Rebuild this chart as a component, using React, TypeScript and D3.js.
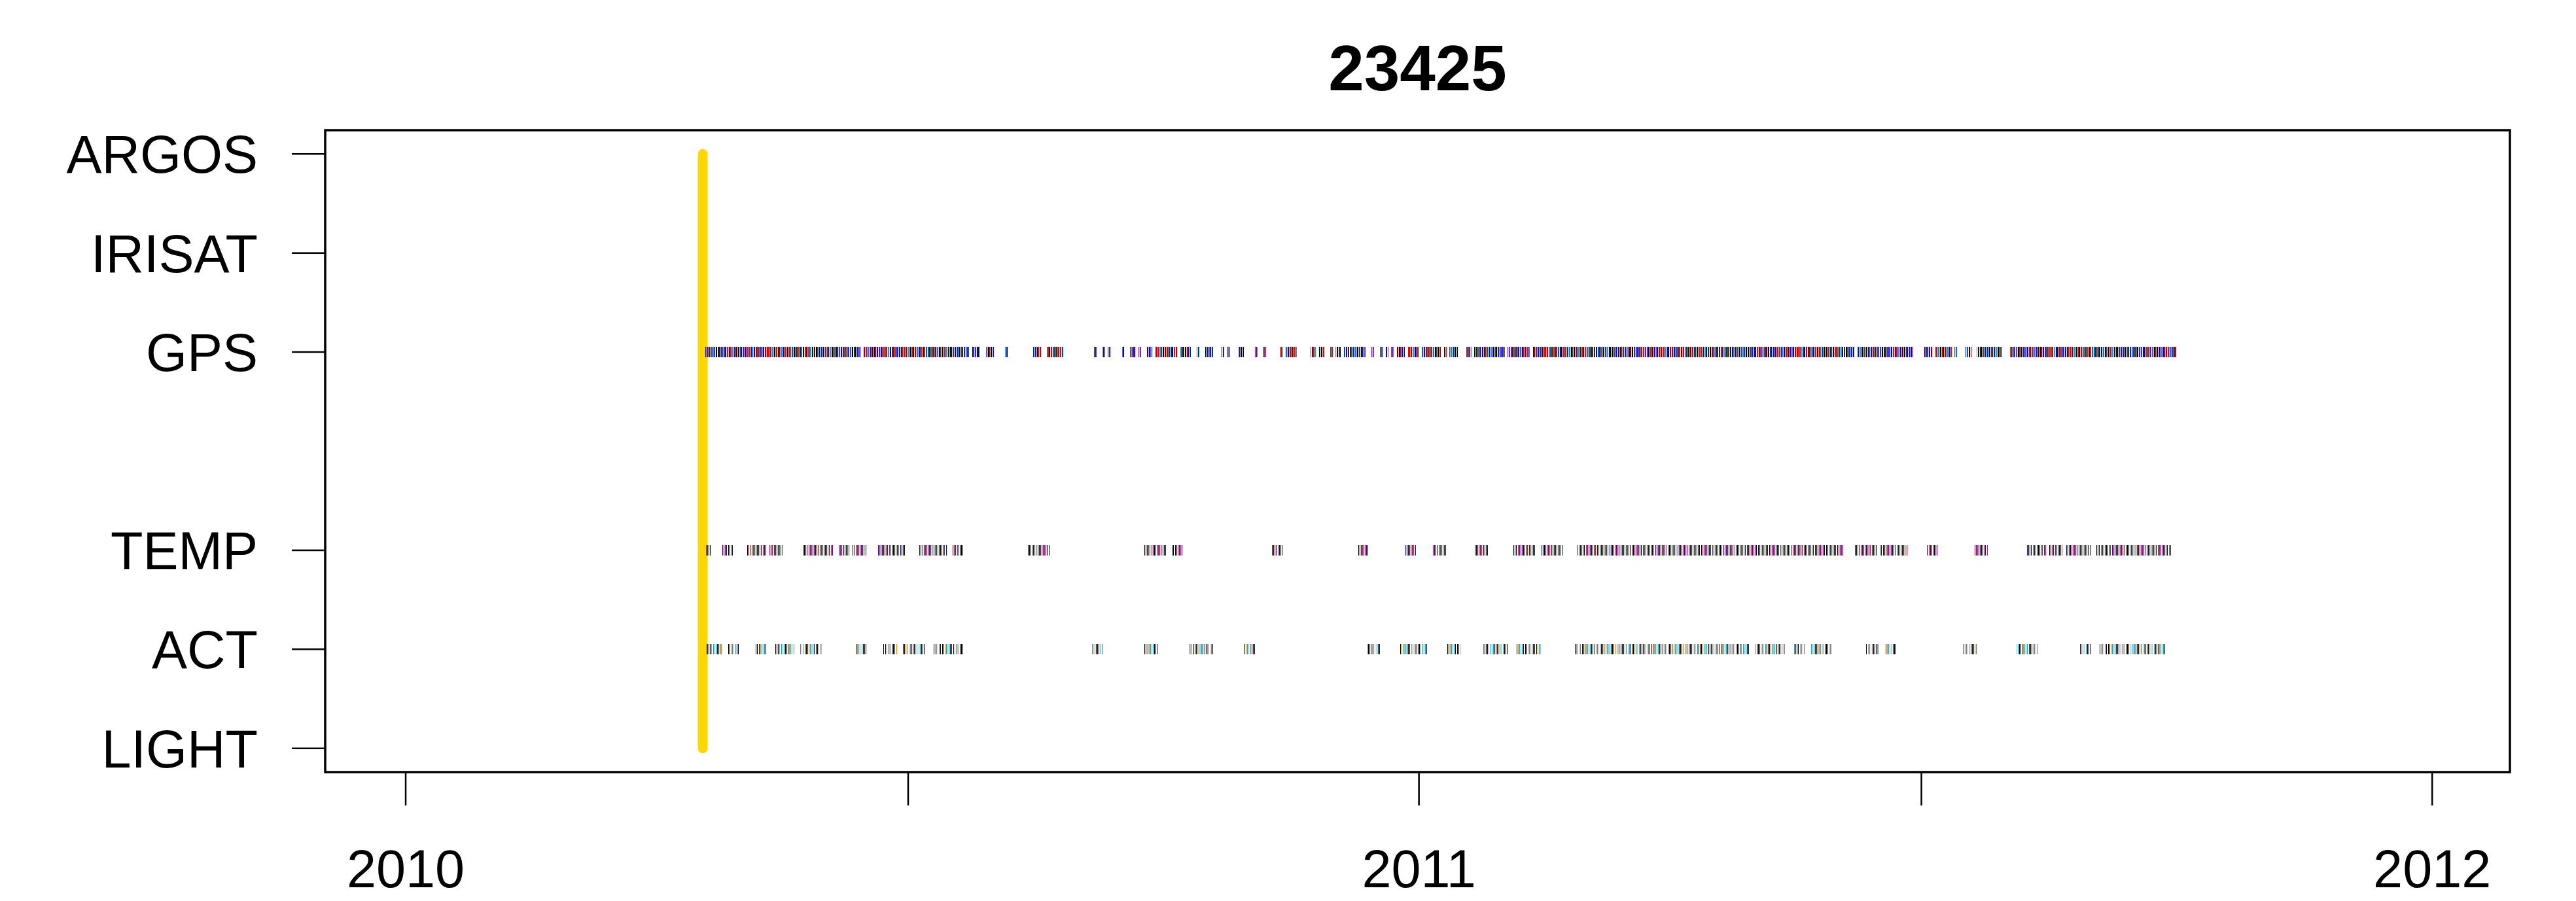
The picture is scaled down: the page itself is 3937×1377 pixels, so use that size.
import React from "react";
import * as d3 from "d3";

// ---- data ----
const TITLE = "23425";
const SENSORS = ["LIGHT", "ACT", "TEMP", "", "GPS", "IRISAT", "ARGOS"]; // y = 1..7
const X_DOMAIN = ["2009-12-03", "2012-01-29"];
const X_TICKS = ["2010-01-01", "2010-07-01", "2011-01-01", "2011-07-01", "2012-01-01"];
const X_LABELS = ["2010", "", "2011", "", "2012"];
const DEPLOY_DAY = 107; // days since 2010-01-01, yellow deployment line

// runs of days (days since 2010-01-01) with records, [start, end]
const GPS_RUNS: [number, number][] = [
  [108, 163], [165, 202], [204, 206], [209, 211], [216, 216], [226, 228], [231, 236],
  [248, 248], [251, 251], [253, 253], [258, 258], [261, 262], [264, 264], [267, 268],
  [270, 277], [279, 282], [285, 285], [288, 290], [294, 294], [296, 296], [300, 301],
  [306, 306], [309, 309], [315, 315], [317, 320], [326, 327], [329, 330], [333, 333],
  [335, 336], [338, 345], [348, 348], [351, 351], [353, 353], [355, 355], [357, 359],
  [361, 364], [366, 372], [374, 374], [376, 378], [382, 383], [385, 395], [397, 404],
  [406, 429], [430, 521], [523, 542], [547, 549], [551, 556], [558, 558], [562, 563],
  [566, 574], [578, 637],
];
const TEMP_RUNS: [number, number][] = [
  [108, 109], [114, 117], [123, 129], [131, 135], [143, 153], [156, 159], [161, 165],
  [170, 179], [185, 194], [197, 200], [224, 231], [266, 273], [276, 279], [312, 315],
  [343, 346], [360, 363], [370, 374], [385, 389], [399, 406], [409, 416], [422, 517],
  [522, 529], [531, 540], [548, 551], [565, 569], [584, 590], [592, 596], [598, 606],
  [609, 635],
];
const ACT_RUNS: [number, number][] = [
  [108, 113], [116, 119], [126, 129], [133, 139], [142, 149], [162, 165], [172, 176],
  [179, 186], [190, 200], [247, 250], [266, 270], [282, 290], [302, 305], [346, 350],
  [358, 367], [375, 379], [388, 396], [400, 408], [421, 483], [486, 496], [500, 503],
  [506, 513], [526, 530], [533, 536], [561, 565], [580, 587], [603, 606], [610, 633],
];

// hours of the day at which records were logged, and the colours used for them
const GPS_HOURS = [0, 8, 16];
const TEMP_HOURS = [2, 14];
const ACT_HOURS = [4, 16];
const GPS_COLORS = ["#000000", "#FF0000", "#0000FF", "#000000", "#1E90FF", "#FF0000", "#0000FF"];
const TEMP_COLORS = ["#000000", "#FF0000", "#0000FF", "#000000", "#FF0000", "#000000", "#0000FF"];
const ACT_COLORS = ["#000000", "#FF7F00", "#1E90FF", "#000000", "#87CEFA", "#000000", "#1E90FF"];

const ROWS = [
  { y: 5, runs: GPS_RUNS, hours: GPS_HOURS, colors: GPS_COLORS },
  { y: 3, runs: TEMP_RUNS, hours: TEMP_HOURS, colors: TEMP_COLORS },
  { y: 2, runs: ACT_RUNS, hours: ACT_HOURS, colors: ACT_COLORS },
];

const W = 3937;
const H = 1377;
const LEFT = 497, RIGHT = 3836, TOP = 199, BOTTOM = 1180;
const FONT = "'Liberation Sans', Arial, Helvetica, sans-serif";

const base = new Date(Date.UTC(2010, 0, 1));

export default function App() {
  const x = d3.scaleUtc()
    .domain(X_DOMAIN.map((s) => new Date(s + "T00:00:00Z")))
    .range([LEFT, RIGHT]);
  const y = d3.scaleLinear().domain([0.76, 7.24]).range([BOTTOM, TOP]);

  const marks: JSX.Element[] = [];
  ROWS.forEach((row, ri) => {
    row.runs.forEach(([s, e]) => {
      for (let d = s; d <= e; d++) {
        row.hours.forEach((h, j) => {
          const t = d3.utcHour.offset(d3.utcDay.offset(base, d), h);
          const xx = Math.round(x(t));
          const c = row.colors[(d * 3 + j * 5) % row.colors.length];
          marks.push(
            <line key={`${ri}-${d}-${j}`} x1={xx + 0.5} x2={xx + 0.5}
              y1={y(row.y) - 8} y2={y(row.y) + 8} stroke={c} strokeWidth={1} />
          );
        });
      }
    });
  });

  const deployX = x(d3.utcDay.offset(base, DEPLOY_DAY));

  return (
    <svg width={W} height={H} style={{ position: "absolute", left: 0, top: 0, background: "#fff" }}
      fontFamily={FONT}>
      <rect x={0} y={0} width={W} height={H} fill="#fff" />
      <text x={(LEFT + RIGHT) / 2} y={138} textAnchor="middle" fontSize={98} fontWeight="bold">{TITLE}</text>

      {/* deployment line */}
      <line x1={deployX} x2={deployX} y1={y(7)} y2={y(1)} stroke="#FFD700" strokeWidth={15} strokeLinecap="round" />

      <g shapeRendering="crispEdges">{marks}</g>

      {/* frame */}
      <rect x={LEFT} y={TOP} width={RIGHT - LEFT} height={BOTTOM - TOP} fill="none" stroke="#000" strokeWidth={3.5} />

      {/* y axis */}
      {SENSORS.map((s, i) => s ? (
        <g key={s}>
          <line x1={446} x2={LEFT} y1={y(i + 1)} y2={y(i + 1)} stroke="#000" strokeWidth={2.5} />
          <text x={394} y={y(i + 1) + 29} textAnchor="end" fontSize={81}>{s}</text>
        </g>
      ) : null)}

      {/* x axis */}
      {X_TICKS.map((t, i) => {
        const xx = x(new Date(t + "T00:00:00Z"));
        return (
          <g key={t}>
            <line x1={xx} x2={xx} y1={BOTTOM} y2={BOTTOM + 51} stroke="#000" strokeWidth={2.5} />
            {X_LABELS[i] && <text x={xx} y={1356} textAnchor="middle" fontSize={81}>{X_LABELS[i]}</text>}
          </g>
        );
      })}
    </svg>
  );
}
